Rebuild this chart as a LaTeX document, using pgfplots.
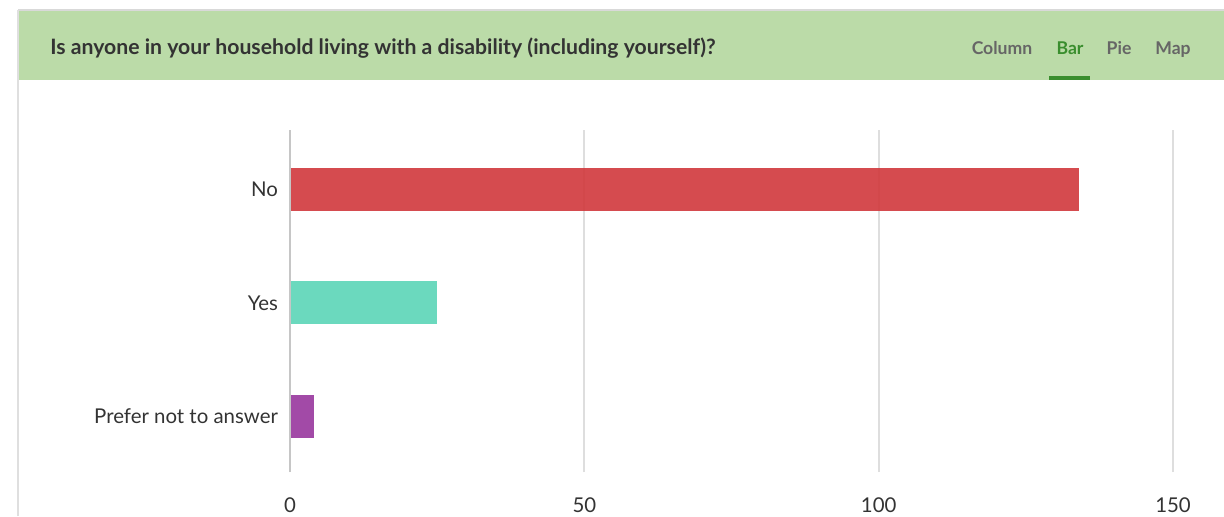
\documentclass[border=0pt]{standalone}
\usepackage{pgfplots}
\pgfplotsset{compat=1.18}
\usepackage{fontspec}
\setmainfont{Lato}
\definecolor{hdr}{HTML}{BBDBA8}
\definecolor{txt}{HTML}{333333}
\definecolor{tab}{HTML}{666666}
\definecolor{tabgreen}{HTML}{3A8E2E}
\definecolor{cNo}{HTML}{D1383C}
\definecolor{cYes}{HTML}{5CD5B8}
\definecolor{cPref}{HTML}{98379E}
\definecolor{gridc}{HTML}{DEDEDE}
\begin{document}
\begin{tikzpicture}
\path[use as bounding box] (0,0) rectangle (612pt,258pt);
\clip (0,0) rectangle (612pt,258pt);
\fill[white] (0,0) rectangle (612pt,258pt);
% header
\fill[hdr] (9pt,218pt) rectangle (612pt,253pt);
\draw[gray!30,line width=0.8pt] (9pt,253pt) -- (612pt,253pt);
\draw[gray!25,line width=0.8pt] (9pt,0pt) -- (9pt,253pt);
\node[anchor=base west,text=txt,font=\fontsize{10.6pt}{12pt}\selectfont\bfseries,inner sep=0pt] at (25pt,231pt) {Is anyone in your household living with a disability (including yourself)?};
\node[anchor=base,text=tab,font=\fontsize{8.8pt}{10pt}\selectfont\bfseries,inner sep=0pt] at (501pt,231pt) {Column};
\node[anchor=base,text=tabgreen,font=\fontsize{8.8pt}{10pt}\selectfont\bfseries,inner sep=0pt] at (535pt,231pt) {Bar};
\node[anchor=base,text=tab,font=\fontsize{8.8pt}{10pt}\selectfont\bfseries,inner sep=0pt] at (559.5pt,231pt) {Pie};
\node[anchor=base,text=tab,font=\fontsize{8.8pt}{10pt}\selectfont\bfseries,inner sep=0pt] at (586.5pt,231pt) {Map};
\fill[tabgreen] (524.5pt,218pt) rectangle (545pt,220pt);
\begin{axis}[
  at={(145pt,22pt)}, anchor=south west,
  scale only axis, width=441.5pt, height=171pt,
  xbar, bar shift=0pt, bar width=21.5pt,
  xmin=0, xmax=150, ymin=-0.49, ymax=2.524,
  xtick={0,50,100,150}, ytick={0,1,2},
  yticklabels={Prefer not to answer,Yes,No},
  major tick length=0pt,
  xmajorgrids, major grid style={gridc,line width=1pt},
  axis line style={draw=none},
  ticklabel style={text=txt,font=\fontsize{10.2pt}{12pt}\selectfont},
  yticklabel style={anchor=east,xshift=-2.5pt},
  xticklabel style={anchor=north,yshift=-9.5pt},
  /pgf/number format/assume math mode=true,
  clip=false,
]
\addplot[draw=none,fill=cNo,fill opacity=0.9] coordinates {(134,2)};
\addplot[draw=none,fill=cYes,fill opacity=0.9] coordinates {(25,1)};
\addplot[draw=none,fill=cPref,fill opacity=0.9] coordinates {(4,0)};
\draw[gray!45,line width=1pt] (axis cs:0,-0.49) -- (axis cs:0,2.524);
\end{axis}
\end{tikzpicture}
\end{document}
